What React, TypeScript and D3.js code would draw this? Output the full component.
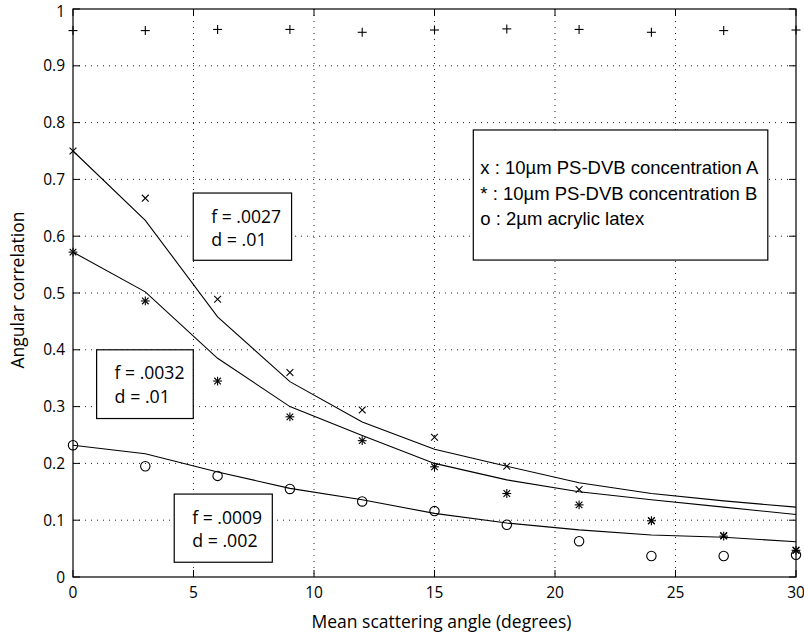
import React from "react";
import * as d3 from "d3";

const angles = [0, 3, 6, 9, 12, 15, 18, 21, 24, 27, 30];
const plusVals = [0.962, 0.962, 0.964, 0.964, 0.959, 0.963, 0.965, 0.964, 0.959, 0.962, 0.963];
const seriesA = [0.75, 0.667, 0.489, 0.36, 0.294, 0.246, 0.195, 0.154, 0.099, 0.073, 0.047];
const seriesB = [0.572, 0.486, 0.345, 0.282, 0.24, 0.194, 0.147, 0.127, 0.099, 0.072, 0.047];
const seriesC = [0.232, 0.195, 0.178, 0.155, 0.133, 0.116, 0.092, 0.063, 0.037, 0.037, 0.039];
const fitA = [0.75, 0.628, 0.458, 0.344, 0.273, 0.225, 0.195, 0.166, 0.147, 0.134, 0.123];
const fitB = [0.572, 0.502, 0.385, 0.3, 0.249, 0.2, 0.171, 0.15, 0.136, 0.123, 0.11];
const fitC = [0.232, 0.217, 0.185, 0.156, 0.136, 0.112, 0.095, 0.083, 0.074, 0.07, 0.062];
const xTicks = [0, 5, 10, 15, 20, 25, 30];
const yTicks = [0, 0.1, 0.2, 0.3, 0.4, 0.5, 0.6, 0.7, 0.8, 0.9, 1];
const yTickLabels = ["0", "0.1", "0.2", "0.3", "0.4", "0.5", "0.6", "0.7", "0.8", "0.9", "1"];
const legendLines = [
  "x : 10\u00b5m PS-DVB concentration A",
  "* : 10\u00b5m PS-DVB concentration B",
  "o : 2\u00b5m acrylic latex",
];
const annotations = [
  { lines: ["f = .0027", "d = .01"], x0: 4.99, x1: 9.07, y0: 0.676, y1: 0.5576 },
  { lines: ["f = .0032", "d = .01"], x0: 0.98, x1: 4.99, y0: 0.4, y1: 0.279 },
  { lines: ["f = .0009", "d = .002"], x0: 4.2, x1: 8.27, y0: 0.146, y1: 0.026 },
];
const legendBox = { x0: 16.61, x1: 28.83, y0: 0.787, y1: 0.558 };

const W = 804;
const H = 639;
const L = 73;
const R = 796;
const T = 9;
const B = 577;

// approximate em widths of a humanist sans (like the reference's Myriad)
const emW: Record<string, number> = { f: 0.28, " ": 0.21, "=": 0.6, ".": 0.24, d: 0.56 };
function estWidth(s: string, size: number) {
  let w = 0;
  for (const c of s) w += emW[c] ?? 0.51;
  return w * size;
}

export default function App() {
  const x = d3.scaleLinear().domain([0, 30]).range([L, R]);
  const y = d3.scaleLinear().domain([0, 1]).range([B, T]);
  const line = d3
    .line<number>()
    .x((_, i) => x(angles[i]))
    .y((d) => y(d));
  const sans = "'Open Sans', 'Noto Sans', sans-serif";
  const tick = 7;
  const annSize = 19;

  return (
    <svg
      width={W}
      height={H}
      style={{ position: "absolute", left: 0, top: 0, background: "#fff" }}
      fontFamily={sans}
    >
      <rect x={0} y={0} width={W} height={H} fill="#fff" />
      {/* grid */}
      {xTicks.slice(1, -1).map((t) => (
        <line key={"gx" + t} x1={x(t)} x2={x(t)} y1={T} y2={B} stroke="#222" strokeWidth={1} strokeDasharray="1,5" />
      ))}
      {yTicks.slice(1, -1).map((t) => (
        <line key={"gy" + t} x1={L} x2={R} y1={y(t)} y2={y(t)} stroke="#222" strokeWidth={1} strokeDasharray="1,5" />
      ))}
      {/* ticks */}
      {xTicks.map((t) => (
        <g key={"tx" + t}>
          <line x1={x(t)} x2={x(t)} y1={B} y2={B - tick} stroke="#000" />
          <line x1={x(t)} x2={x(t)} y1={T} y2={T + tick} stroke="#000" />
          <text x={x(t)} y={598} fontSize={15.5} textAnchor="middle" fill="#000">
            {t}
          </text>
        </g>
      ))}
      {yTicks.map((t, i) => (
        <g key={"ty" + t}>
          <line x1={L} x2={L + tick} y1={y(t)} y2={y(t)} stroke="#000" />
          <line x1={R} x2={R - tick} y1={y(t)} y2={y(t)} stroke="#000" />
          <text x={65} y={Math.max(y(t) + 5.5, 17)} fontSize={15.5} textAnchor="end" fill="#000">
            {yTickLabels[i]}
          </text>
        </g>
      ))}
      {/* frame */}
      <rect x={L} y={T} width={R - L} height={B - T} fill="none" stroke="#000" strokeWidth={1.2} />

      {/* fits */}
      {[fitA, fitB, fitC].map((f, i) => (
        <path key={"fit" + i} d={line(f) || ""} fill="none" stroke="#000" strokeWidth={1.1} />
      ))}

      {/* plus markers */}
      {plusVals.map((v, i) => {
        const cx = x(angles[i]);
        const cy = y(v);
        const s = 4.5;
        return (
          <g key={"p" + i} stroke="#000" strokeWidth={1.1}>
            <line x1={cx - s} x2={cx + s} y1={cy} y2={cy} />
            <line x1={cx} x2={cx} y1={cy - s} y2={cy + s} />
          </g>
        );
      })}
      {/* x markers */}
      {seriesA.map((v, i) => {
        const cx = x(angles[i]);
        const cy = y(v);
        const s = 3.4;
        return (
          <g key={"a" + i} stroke="#000" strokeWidth={1.1}>
            <line x1={cx - s} x2={cx + s} y1={cy - s} y2={cy + s} />
            <line x1={cx - s} x2={cx + s} y1={cy + s} y2={cy - s} />
          </g>
        );
      })}
      {/* star markers */}
      {seriesB.map((v, i) => {
        const cx = x(angles[i]);
        const cy = y(v);
        const s = 4.4;
        const d = 3.3;
        return (
          <g key={"b" + i} stroke="#000" strokeWidth={1.1}>
            <line x1={cx} x2={cx} y1={cy - s} y2={cy + s} />
            <line x1={cx - d} x2={cx + d} y1={cy - d} y2={cy + d} />
            <line x1={cx - d} x2={cx + d} y1={cy + d} y2={cy - d} />
            <line x1={cx - s} x2={cx + s} y1={cy} y2={cy} />
          </g>
        );
      })}
      {/* circle markers */}
      {seriesC.map((v, i) => (
        <circle key={"c" + i} cx={x(angles[i])} cy={y(v)} r={4.7} fill="none" stroke="#000" strokeWidth={1.1} />
      ))}

      {/* annotation boxes */}
      {annotations.map((a, i) => {
        const bx = x(a.x0);
        const by = y(a.y0);
        return (
          <g key={"an" + i}>
            <rect x={bx} y={by} width={x(a.x1) - bx} height={y(a.y1) - by} fill="#fff" stroke="#000" strokeWidth={1.2} />
            {a.lines.map((t, j) => (
              <text
                key={j}
                x={bx + 18}
                y={by + 29.5 + j * 23.5}
                fontSize={annSize}
                fill="#000"
                textLength={estWidth(t, 19.5)}
                lengthAdjust="spacingAndGlyphs"
              >
                {t}
              </text>
            ))}
          </g>
        );
      })}

      {/* legend */}
      <rect
        x={x(legendBox.x0)}
        y={y(legendBox.y0)}
        width={x(legendBox.x1) - x(legendBox.x0)}
        height={y(legendBox.y1) - y(legendBox.y0)}
        fill="#fff"
        stroke="#000"
        strokeWidth={1.2}
      />
      {legendLines.map((t, i) => (
        <text
          key={"lg" + i}
          x={x(legendBox.x0) + 7}
          y={y(legendBox.y0) + 44.5 + i * 25.5}
          fontSize={18.5}
          fontFamily="'Liberation Sans', Arial, sans-serif"
          fill="#000"
        >
          {t}
        </text>
      ))}

      {/* axis titles */}
      <text x={(L + R) / 2 + 7} y={628} fontSize={17.5} textAnchor="middle" fill="#000">
        Mean scattering angle (degrees)
      </text>
      <text
        transform={`translate(24, ${290}) rotate(-90)`}
        fontSize={17.5}
        textAnchor="middle"
        fill="#000"
      >
        Angular correlation
      </text>
    </svg>
  );
}
